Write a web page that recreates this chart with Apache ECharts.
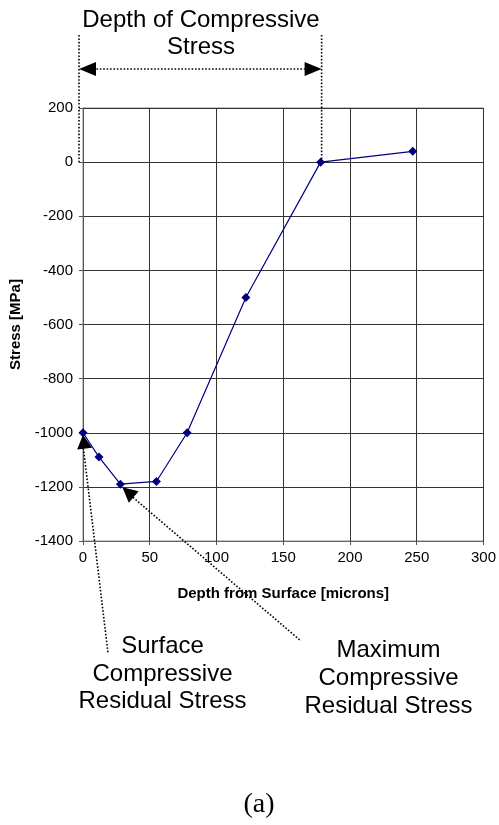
<!DOCTYPE html>
<html>
<head>
<meta charset="utf-8">
<script src="https://cdn.jsdelivr.net/npm/echarts@6/dist/echarts.min.js"></script>
<style>
html,body{margin:0;padding:0;background:#fff}
#chart{width:499px;height:825px}
</style>
</head>
<body>
<div id="chart"></div>
<script>
// depth [microns] vs residual stress [MPa]
var depths = [0, 12, 28, 55, 78, 122, 178, 247]
var stresses = [-1000, -1090, -1190, -1180, -1000, -500, 0, 40]
var xTicks = [0, 50, 100, 150, 200, 250, 300]
var yTicks = [-1400, -1200, -1000, -800, -600, -400, -200, 0, 200]

var sans = 'Liberation Sans, Arial, sans-serif'
var points = depths.map(function (d, i) { return [d, stresses[i]] })
var plain = function (v) { return String(v) }

var chart = echarts.init(document.getElementById('chart'))
var option = {
    animation: false,
    backgroundColor: '#fff',
    grid: {left: 83, right: 13, top: 108, bottom: 284, show: true, borderColor: '#888', borderWidth: 1},
    xAxis: {
        type: 'value', min: xTicks[0], max: xTicks[xTicks.length - 1], interval: 50,
        name: 'Depth from Surface [microns]', nameLocation: 'middle', nameGap: 45,
        nameTextStyle: {fontFamily: sans, fontWeight: 'bold', fontSize: 15, color: '#000'},
        axisLine: {show: true, onZero: false, lineStyle: {color: '#666'}},
        axisTick: {show: true, length: 4, lineStyle: {color: '#555'}},
        axisLabel: {fontFamily: sans, fontSize: 15, color: '#000', margin: 9, formatter: plain},
        splitLine: {show: true, lineStyle: {color: '#333', width: 1}}
    },
    yAxis: {
        type: 'value', min: yTicks[0], max: yTicks[yTicks.length - 1], interval: 200,
        name: 'Stress [MPa]', nameLocation: 'middle', nameGap: 60, nameRotate: 90,
        nameTextStyle: {fontFamily: sans, fontWeight: 'bold', fontSize: 15, color: '#000'},
        axisLine: {show: true, onZero: false, lineStyle: {color: '#555'}},
        axisTick: {show: true, length: 4, lineStyle: {color: '#555'}},
        axisLabel: {fontFamily: sans, fontSize: 15, color: '#000', margin: 10, formatter: plain},
        splitLine: {show: true, lineStyle: {color: '#333', width: 1}}
    },
    series: [{
        type: 'line', data: points, symbol: 'diamond', symbolSize: 9,
        itemStyle: {color: '#000080'},
        lineStyle: {color: '#000080', width: 1.2},
        z: 5
    }]
}
chart.setOption(option)

// annotations anchored on data points
var dotted = {stroke: '#000', lineWidth: 1.6, lineDash: [1.6, 1.8]}
var arrowHead = function (tip, tail, len, hw) {
    var dx = tail[0] - tip[0], dy = tail[1] - tip[1]
    var l = Math.sqrt(dx * dx + dy * dy)
    var ux = dx / l, uy = dy / l
    var bx = tip[0] + ux * len, by = tip[1] + uy * len
    return {
        type: 'polygon', z: 10,
        shape: {points: [tip, [bx - uy * hw, by + ux * hw], [bx + uy * hw, by - ux * hw]]},
        style: {fill: '#000'}
    }
}
var dline = function (a, b) {
    return {type: 'line', z: 10, shape: {x1: a[0], y1: a[1], x2: b[0], y2: b[1]}, style: dotted}
}
var txt = function (text, x, y, size, lh, font) {
    return {
        type: 'text', z: 10, x: x, y: y,
        style: {text: text, fill: '#000', font: size + 'px ' + (font || sans), lineHeight: lh,
            align: 'center', verticalAlign: 'top'}
    }
}

var pSurf = chart.convertToPixel({gridIndex: 0}, points[0])
var pMax = chart.convertToPixel({gridIndex: 0}, points[2])
var pDepth = chart.convertToPixel({gridIndex: 0}, points[6])

var xl = pSurf[0] - 4, xr = pDepth[0] + 1, ya = 69
var surfTip = [pSurf[0], pSurf[1] + 2], surfEnd = [108, 653]
var maxTip = [pMax[0] + 2, pMax[1] + 3], maxEnd = [301, 641]

chart.setOption({
    graphic: [
        dline([xl, 35], [xl, pDepth[1]]),
        dline([xr, 35], [xr, pDepth[1]]),
        dline([xl + 14, ya], [xr - 14, ya]),
        arrowHead([xl, ya], [xr, ya], 17, 7),
        arrowHead([xr, ya], [xl, ya], 17, 7),
        txt('Depth of Compressive\nStress', 201, 7, 24, 27),
        dline([surfTip[0], surfTip[1] + 10], surfEnd),
        arrowHead(surfTip, surfEnd, 14, 7.5),
        dline([maxTip[0] + 8, maxTip[1] + 8], maxEnd),
        arrowHead(maxTip, maxEnd, 15, 7.5),
        txt('Surface\nCompressive\nResidual Stress', 162.5, 633, 24, 27.5),
        txt('Maximum\nCompressive\nResidual Stress', 388.5, 636, 24, 28),
        txt('(a)', 259, 790, 28, 30, 'Liberation Serif, Times New Roman, serif')
    ]
})
</script>
</body>
</html>
